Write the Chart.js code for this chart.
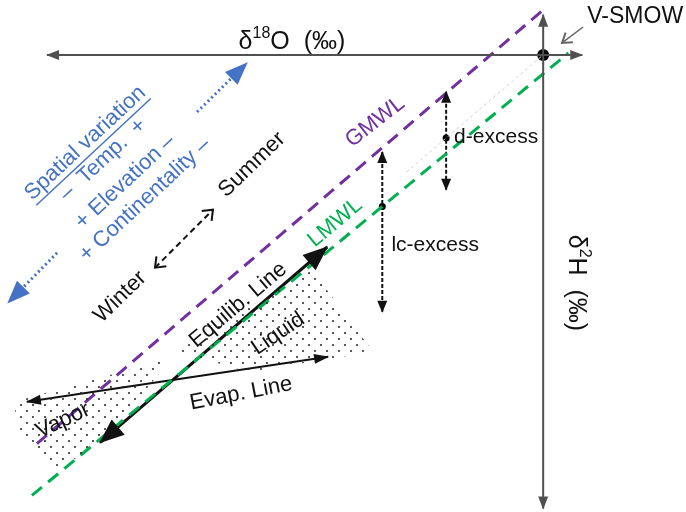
<!DOCTYPE html>
<html>
<head>
<meta charset="utf-8">
<script src="https://cdn.jsdelivr.net/npm/chart.js@4.4.0/dist/chart.umd.min.js"></script>
<style>
  body { margin: 0; background: #fff; }
  canvas { display: block; }
</style>
</head>
<body>
<canvas id="diagram" width="686" height="512"></canvas>
<script>
// x = δ18O, y = δ2H (per mil), origin = V-SMOW
const xRange = [-12.93, 3.40]
const yRange = [-101.6, 12.2]

// lines, as [δ18O, δ2H] pairs
const o18AxisPts = [[-11.81, 0], [0.93, 0]]
const h2AxisPts = [[0, 8.9], [0, -100.8]]
const gmwlPts = [[-12.05, -86.4], [0, 10]]
const lmwlPts = [[-12.17, -97.9], [0.6, 0.42]]
const refPts = [[-3.25, -26], [0, 0]]
const dExcessPts = [[-2.31, -8.2], [-2.31, -30.0]]
const dExcessDot = [[-2.31, -18.5]]
const lcExcessPts = [[-3.83, -21.6], [-3.83, -57.1]]
const lcExcessDot = [[-3.83, -33.7]]
const vsmowPt = [[0, 0]]
const vsmowPointerPts = [[0.95, 6.2], [0.45, 2.67]]
const equilibPts = [[-10.55, -86.2], [-5.14, -42.7]]
const evapPts = [[-12.29, -77.1], [-5.12, -67.1]]
const seasonPts = [[-9.24, -47.3], [-7.86, -34.4]]
const spatialUpPts = [[-8.24, -12.7], [-7.05, -1.78]]
const spatialDownPts = [[-11.57, -44], [-12.74, -55.1]]

// stippled areas
const liquidPts = [[-8.76, -66], [-5.5, -47.8], [-4.05, -66], [-6.98, -70.4], [-8.76, -66]]
const vaporPts = [[-12.6, -77.1], [-8.83, -67.3], [-10.55, -86.7], [-11.62, -92.2], [-12.5, -83.3], [-12.6, -77.1]]

const purple = '#7030A0'
const green = '#00B050'
const blue = '#4472C4'
const ink = '#111'
const axisGray = '#505050'
const FONT = "'Liberation Sans', Arial, sans-serif"

// text placed at diagram coordinates
const labels = [
    {text: 'V-SMOW', x: 2.19, y: 8.44, rot: 0, size: 23, color: ink},
    {text: 'GMWL', x: -4.0, y: -14.9, rot: -38, size: 22, color: purple},
    {text: 'LMWL', x: -4.95, y: -37.3, rot: -40, size: 22, color: green},
    {text: 'd-excess', x: -1.12, y: -18.2, rot: 0, size: 21, color: ink},
    {text: 'lc-excess', x: -2.57, y: -42.2, rot: 0, size: 21, color: ink},
    {text: 'Spatial variation', x: -10.9, y: -19.6, rot: -43, size: 22, color: blue, underline: true},
    {text: '\u2013  Temp.  +', x: -10.48, y: -23.3, rot: -43, size: 22, color: blue},
    {text: '+ Elevation \u2013', x: -9.95, y: -28.2, rot: -43, size: 22, color: blue},
    {text: '+ Continentality \u2013', x: -9.48, y: -32.2, rot: -43, size: 22, color: blue},
    {text: 'Winter', x: -10.07, y: -53.8, rot: -44, size: 22, color: ink},
    {text: 'Summer', x: -6.93, y: -24.4, rot: -44, size: 22, color: ink},
    {text: 'Equilib. Line', x: -7.26, y: -55.6, rot: -40, size: 22, color: ink},
    {text: 'Liquid', x: -6.31, y: -62, rot: -34, size: 22, color: ink},
    {text: 'Evap. Line', x: -7.19, y: -75.3, rot: -11, size: 22, color: ink},
    {text: 'Vapor', x: -11.43, y: -81.3, rot: -25, size: 22, color: ink}
]

// axis titles with superscripts
const axisTitles = [
    {parts: [['\u03b4', 0], ['18', 1], ['O  (\u2030)', 0]], x: -5.98, y: 3.33, rot: 0},
    {parts: [['\u03b4', 0], ['2', 1], ['H  (\u2030)', 0]], x: 0.83, y: -50.7, rot: 90}
]

function pts(arr) {
    return arr.map(p => ({x: p[0], y: p[1]}))
}

function stipple(step, r) {
    const c = document.createElement('canvas')
    c.width = step * 2
    c.height = step * 2
    const g = c.getContext('2d')
    g.fillStyle = '#222'
    ;[[step / 2, step / 2], [step * 1.5, step * 1.5]].forEach(p => {
        g.beginPath()
        g.arc(p[0], p[1], r, 0, Math.PI * 2)
        g.fill()
    })
    return g.createPattern(c, 'repeat')
}

function line(arr, color, width, dash, extra) {
    return Object.assign({
        data: pts(arr),
        showLine: true,
        borderColor: color,
        borderWidth: width,
        borderDash: dash || [],
        pointRadius: 0,
        fill: false
    }, extra || {})
}

const datasets = [
    line(liquidPts, 'rgba(0,0,0,0)', 0, null, {fill: 'shape', backgroundColor: stipple(6, 1.0)}),
    line(vaporPts, 'rgba(0,0,0,0)', 0, null, {fill: 'shape', backgroundColor: stipple(6, 1.0)}),
    line(o18AxisPts, axisGray, 2, null, {arrow: {start: [12, 10], end: [12, 10]}}),
    line(h2AxisPts, axisGray, 2, null, {arrow: {start: [12, 10], end: [12, 10]}}),
    line(refPts, '#cfcfcf', 1, [3, 3]),
    line(gmwlPts, purple, 3, [13, 8]),
    line(lmwlPts, green, 3, [13, 8]),
    line(dExcessPts, ink, 2, [4, 2], {arrow: {start: [11, 10], end: [11, 10]}}),
    line(lcExcessPts, ink, 2, [4, 2], {arrow: {start: [11, 10], end: [11, 10]}}),
    line(equilibPts, ink, 3, null, {arrow: {start: [24, 20], end: [24, 20]}}),
    line(evapPts, ink, 2, null, {arrow: {start: [14, 10], end: [14, 10]}}),
    line(seasonPts, ink, 2, [6, 4], {arrow: {start: [9, 14], end: [9, 14], open: true}}),
    line(vsmowPointerPts, '#666', 1.5, null, {arrow: {end: [9, 12], open: true}}),
    line(spatialUpPts, blue, 3, [2, 3], {arrow: {end: [22, 18]}}),
    line(spatialDownPts, blue, 3, [2, 3], {arrow: {end: [22, 18]}}),
    {data: pts(vsmowPt), pointRadius: 6, pointBackgroundColor: '#000', pointBorderWidth: 0},
    {data: pts(dExcessDot), pointRadius: 3.5, pointBackgroundColor: '#000', pointBorderWidth: 0},
    {data: pts(lcExcessDot), pointRadius: 3.5, pointBackgroundColor: '#000', pointBorderWidth: 0}
]

function drawHead(ctx, tip, from, size, color, open) {
    const ang = Math.atan2(tip.y - from.y, tip.x - from.x)
    const len = size[0], wid = size[1]
    ctx.save()
    ctx.translate(tip.x, tip.y)
    ctx.rotate(ang)
    ctx.setLineDash([])
    ctx.beginPath()
    if (open) {
        ctx.moveTo(-len, wid / 2)
        ctx.lineTo(0, 0)
        ctx.lineTo(-len, -wid / 2)
        ctx.strokeStyle = color
        ctx.lineWidth = 2
        ctx.stroke()
    } else {
        ctx.moveTo(1, 0)
        ctx.lineTo(-len, wid / 2)
        ctx.lineTo(-len, -wid / 2)
        ctx.closePath()
        ctx.fillStyle = color
        ctx.fill()
    }
    ctx.restore()
}

const diagramPlugin = {
    id: 'diagram',
    afterDatasetsDraw(chart) {
        const ctx = chart.ctx
        chart.data.datasets.forEach((ds, i) => {
            if (!ds.arrow) return
            const el = chart.getDatasetMeta(i).data
            const n = el.length
            if (ds.arrow.start) drawHead(ctx, el[0], el[1], ds.arrow.start, ds.borderColor, ds.arrow.open)
            if (ds.arrow.end) drawHead(ctx, el[n - 1], el[n - 2], ds.arrow.end, ds.borderColor, ds.arrow.open)
        })
    },
    afterDraw(chart) {
        const ctx = chart.ctx
        const xs = chart.scales.x, ys = chart.scales.y
        labels.forEach(l => {
            ctx.save()
            ctx.translate(xs.getPixelForValue(l.x), ys.getPixelForValue(l.y))
            ctx.rotate(l.rot * Math.PI / 180)
            ctx.font = l.size + 'px ' + FONT
            ctx.fillStyle = l.color
            ctx.textAlign = 'center'
            ctx.textBaseline = 'middle'
            ctx.fillText(l.text, 0, 0)
            if (l.underline) {
                const w = ctx.measureText(l.text).width
                ctx.strokeStyle = l.color
                ctx.lineWidth = 1.5
                ctx.beginPath()
                ctx.moveTo(-w / 2, l.size * 0.55)
                ctx.lineTo(w / 2, l.size * 0.55)
                ctx.stroke()
            }
            ctx.restore()
        })
        axisTitles.forEach(t => {
            ctx.save()
            ctx.translate(xs.getPixelForValue(t.x), ys.getPixelForValue(t.y))
            ctx.rotate(t.rot * Math.PI / 180)
            ctx.fillStyle = ink
            ctx.textBaseline = 'alphabetic'
            let total = 0
            t.parts.forEach(p => {
                ctx.font = (p[1] ? 16 : 25) + 'px ' + FONT
                total += ctx.measureText(p[0]).width
            })
            let cx = -total / 2
            t.parts.forEach(p => {
                ctx.font = (p[1] ? 16 : 25) + 'px ' + FONT
                ctx.fillText(p[0], cx, p[1] ? -2 : 9)
                cx += ctx.measureText(p[0]).width
            })
            ctx.restore()
        })
    }
}

new Chart(document.getElementById('diagram'), {
    type: 'scatter',
    data: {datasets: datasets},
    options: {
        responsive: false,
        animation: false,
        layout: {padding: 0, autoPadding: false},
        plugins: {
            legend: {display: false},
            tooltip: {enabled: false}
        },
        scales: {
            x: {type: 'linear', min: xRange[0], max: xRange[1], display: false},
            y: {type: 'linear', min: yRange[0], max: yRange[1], display: false}
        }
    },
    plugins: [diagramPlugin]
})
</script>
</body>
</html>
